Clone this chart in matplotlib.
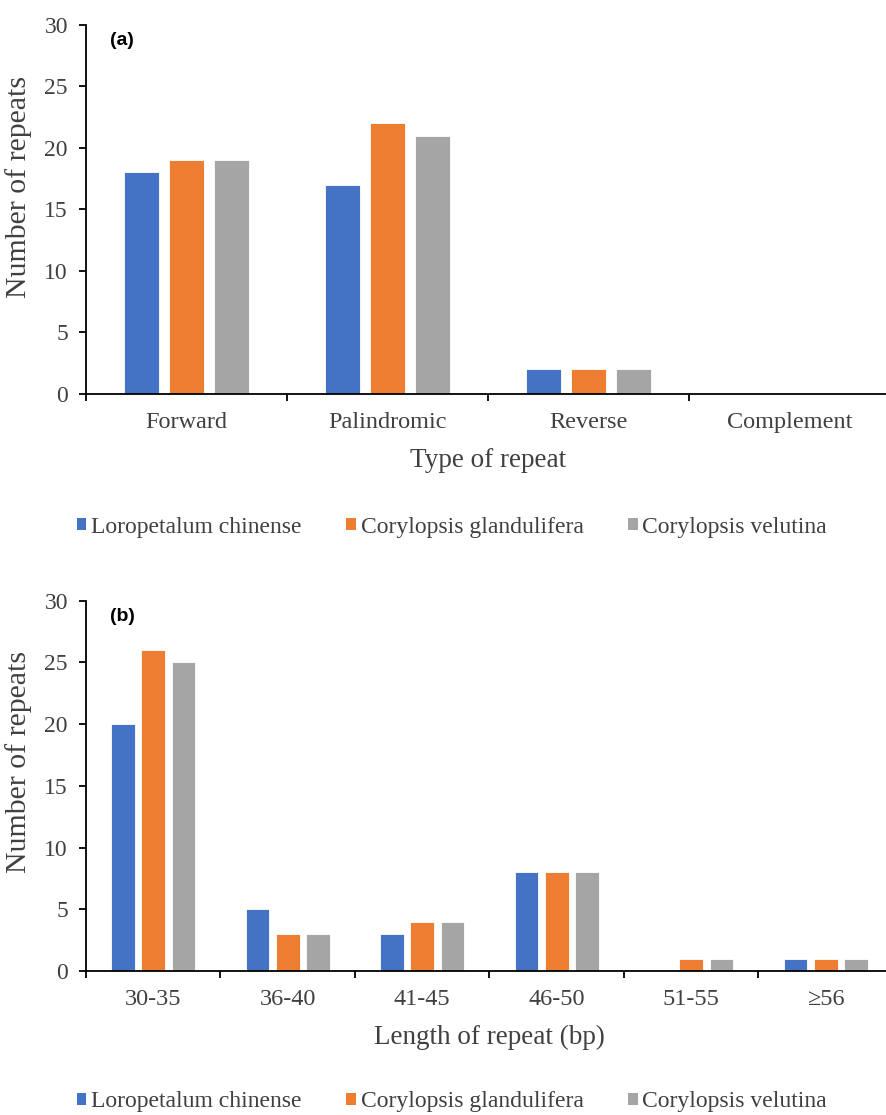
import matplotlib
matplotlib.use("Agg")
import matplotlib.pyplot as plt
import numpy as np
from matplotlib.patches import Patch

# ---- data ----
series = ["Loropetalum chinense", "Corylopsis glandulifera", "Corylopsis velutina"]
colors = ["#4472C4", "#ED7D31", "#A5A5A5"]

types = ["Forward", "Palindromic", "Reverse", "Complement"]
types_L = [18, 17, 2, 0]
types_G = [19, 22, 2, 0]
types_V = [19, 21, 2, 0]

lengths = ["30-35", "36-40", "41-45", "46-50", "51-55", "\u226556"]
len_L = [20, 5, 3, 8, 0, 1]
len_G = [26, 3, 4, 8, 1, 1]
len_V = [25, 3, 4, 8, 1, 1]

W, H = 887, 1115
fig = plt.figure(figsize=(W / 100, H / 100), dpi=100)
serif = ["Liberation Serif", "DejaVu Serif"]
txtc = "#404040"


def panel(rect, cats, vals, xlabel, tag, leg_y, ylab_y):
    ax = fig.add_axes(rect)
    x = np.arange(len(cats))
    bw, off = 0.175, 0.225
    for i, (v, c) in enumerate(zip(vals, colors)):
        ax.bar(x + (i - 1) * off, v, width=bw, color=c, edgecolor="white",
               linewidth=0.6, zorder=2)
    ax.set_xlim(-0.5, len(cats) - 0.5)
    ax.set_ylim(0, 30)
    ax.set_yticks(range(0, 31, 5))
    ax.set_xticks(x)
    ax.set_xticklabels(cats, family=serif, fontsize=17.5, color=txtc)
    ax.set_xticks(np.arange(len(cats) + 1) - 0.5, minor=True)
    ax.tick_params(axis="x", which="major", length=0, pad=13)
    ax.tick_params(axis="x", which="minor", length=5, width=1.3, direction="out")
    ax.tick_params(axis="y", length=5, width=1.3, pad=8, labelsize=17,
                   labelcolor=txtc)
    for lab in ax.get_yticklabels():
        lab.set_family(serif)
    for s in ["top", "right"]:
        ax.spines[s].set_visible(False)
    for s in ["left", "bottom"]:
        ax.spines[s].set_linewidth(1.3)
        ax.spines[s].set_color("black")
    ax.spines["bottom"].set_zorder(3)
    ax.set_xlabel(xlabel, family=serif, fontsize=19.5, color=txtc, labelpad=11)
    ax.set_ylabel("Number of repeats", family=serif, fontsize=21.5, color=txtc)
    ax.yaxis.set_label_coords(-(86 - 19) / (rect[2] * W), ylab_y)
    ax.yaxis.label.set_va("center")
    ax.text(0.03, 0.98, tag, transform=ax.transAxes, family=["Liberation Sans"],
            fontsize=14, fontweight="bold", va="top", ha="left")
    handles = [Patch(facecolor=c, edgecolor="none") for c in colors]
    fig.legend(handles, series, loc="center", bbox_to_anchor=(452 / W, leg_y),
               ncol=3, frameon=False, prop={"family": serif, "size": 17},
               labelcolor=txtc, handlelength=0.4, handleheight=0.4,
               handletextpad=0.2, columnspacing=1.9)
    return ax


panel([86 / W, 1 - 393.5 / H, 804 / W, 368.5 / H], types,
      [types_L, types_G, types_V], "Type of repeat", "(a)", 1 - 527 / H, 0.56)
panel([86 / W, 1 - 971 / H, 807 / W, 370.3 / H], lengths,
      [len_L, len_G, len_V], "Length of repeat (bp)", "(b)", 1 - 1102 / H, 0.565)

fig.savefig("out.png", dpi=100)
